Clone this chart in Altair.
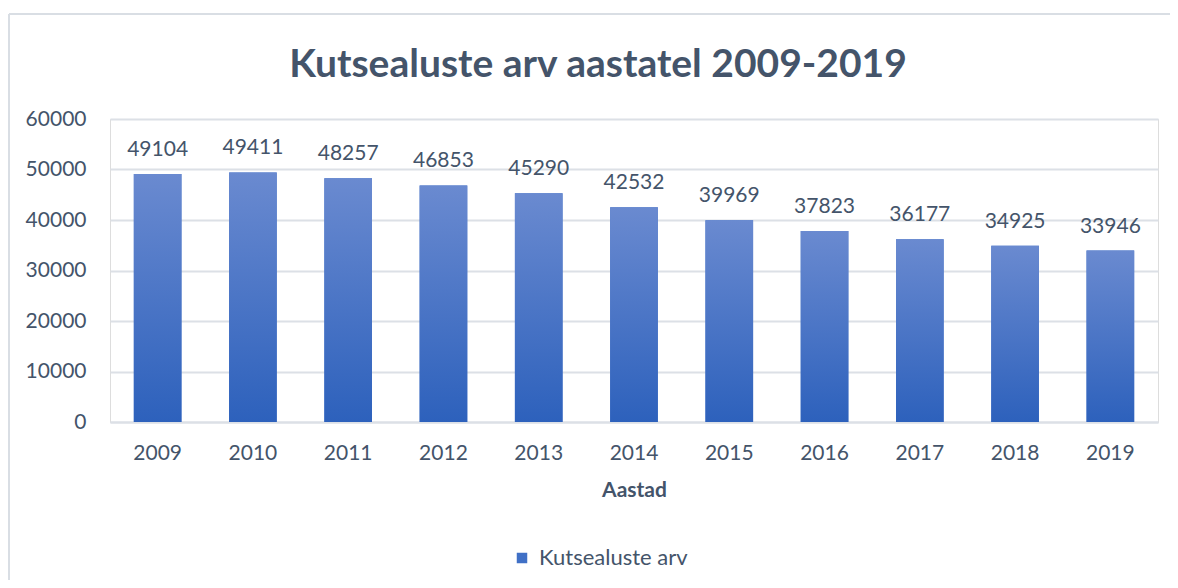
import altair as alt
import pandas as pd

years = ["2009", "2010", "2011", "2012", "2013", "2014", "2015", "2016", "2017", "2018", "2019"]
values = [49104, 49411, 48257, 46853, 45290, 42532, 39969, 37823, 36177, 34925, 33946]
series_name = "Kutsealuste arv"
title_text = "Kutsealuste arv aastatel 2009-2019"
x_title = "Aastad"

df = pd.DataFrame({"Aasta": years, "Väärtus": values, "Seeria": [series_name] * len(years)})

TXT = "#44546A"
GRID = "#DCE0E6"
FONT = "Lato"

gradient = alt.Gradient(
    gradient="linear",
    stops=[alt.GradientStop(color="#6A8AD0", offset=0),
           alt.GradientStop(color="#2D61BC", offset=1)],
    x1=1, x2=1, y1=0, y2=1,
)

x_enc = alt.X("Aasta:N", title=x_title, sort=years,
              scale=alt.Scale(paddingInner=0.5, paddingOuter=0.25),
              axis=alt.Axis(labelAngle=0, labelFontSize=21, labelColor=TXT, labelFont=FONT,
                            labelPadding=20, ticks=False, domainColor=GRID, domainWidth=2,
                            titleFontSize=21, titleFont=FONT, titleColor=TXT, titleFontWeight="bold",
                            titlePadding=16))
y_enc = alt.Y("Väärtus:Q", title=None,
              scale=alt.Scale(domain=[0, 60000]),
              axis=alt.Axis(values=[0, 10000, 20000, 30000, 40000, 50000, 60000], format="d",
                            labelFontSize=21, labelColor=TXT, labelFont=FONT, labelPadding=24,
                            ticks=False, domain=False, gridColor=GRID, gridWidth=2))

base = alt.Chart(df)

legend_bars = base.mark_bar().encode(
    x=x_enc, y=y_enc,
    color=alt.Color("Seeria:N", title=None,
                    scale=alt.Scale(range=["#4070C6"]),
                    legend=alt.Legend(orient="none", legendX=401, legendY=428,
                                      symbolType="square", symbolSize=110,
                                      symbolStrokeWidth=0,
                                      labelFontSize=22, labelFont=FONT, labelColor=TXT,
                                      labelOffset=6)),
)

bars = base.mark_bar(color=gradient).encode(x=x_enc, y=y_enc)

labels = base.mark_text(baseline="bottom", dy=-14, fontSize=21, font=FONT, color=TXT).encode(
    x=x_enc, y=y_enc, text=alt.Text("Väärtus:Q", format="d"))

frame_df = pd.DataFrame({"a": [0]})
frame_top = alt.Chart(frame_df).mark_rule(stroke="#D9DEE4", strokeWidth=2).encode(
    x=alt.value(-101), x2=alt.value(1070), y=alt.value(-105))
frame_left = alt.Chart(frame_df).mark_rule(stroke="#D9DEE4", strokeWidth=2).encode(
    x=alt.value(-101), y=alt.value(-105), y2=alt.value(500))

chart = alt.layer(frame_top, frame_left, legend_bars, bars, labels).properties(
    width=1048, height=303,
    autosize=alt.AutoSizeParams(type="none"),
    padding={"left": 102, "top": 111, "right": 12, "bottom": 158},
    title=alt.TitleParams(title_text, fontSize=39, font=FONT, fontWeight="bold", color=TXT,
                          anchor="middle", dx=-36, offset=-72),
).configure_view(stroke=None).configure(background="white")

chart.save("out.html", embed_options={"renderer": "svg", "actions": False})
